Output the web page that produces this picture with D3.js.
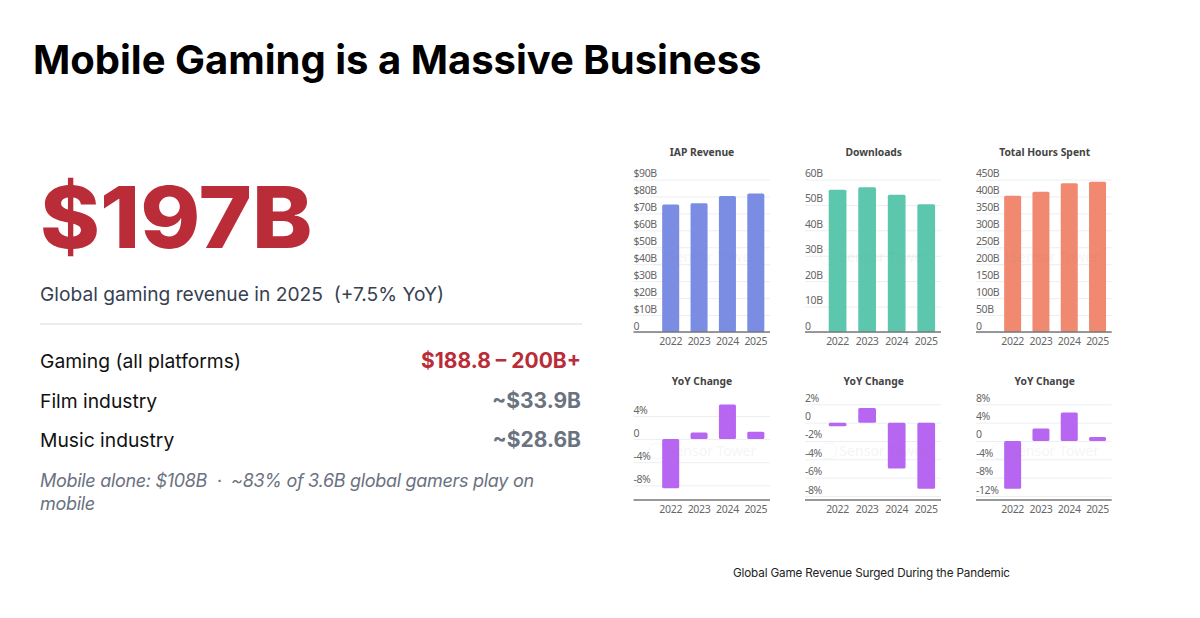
<!DOCTYPE html>
<html>
<head>
<meta charset="utf-8">
<script src="https://cdn.jsdelivr.net/npm/d3@7"></script>
<style>
  html, body { margin: 0; background: #fff; }
  svg { display: block; }
  text { font-family: Inter, "Liberation Sans", sans-serif; }
  .mini text { font-family: "Noto Sans", sans-serif; }
</style>
</head>
<body>
<div id="draw-here"></div>
<script>
var years = ['2022', '2023', '2024', '2025'];

var iapRevenue = [75.2, 76, 80.3, 81.7];
var downloads = [56, 57, 54, 50.3];
var hoursSpent = [402, 414, 439, 443];
var iapYoy = [-8.5, 1.15, 6, 1.27];
var downloadsYoy = [-0.4, 1.6, -5, -7.2];
var hoursYoy = [-10.4, 2.7, 6.2, 0.87];

var iapTicks = [0, 10, 20, 30, 40, 50, 60, 70, 80, 90];
var downloadsTicks = [0, 10, 20, 30, 40, 50, 60];
var hoursTicks = [0, 50, 100, 150, 200, 250, 300, 350, 400, 450];
var iapYoyTicks = [-8, -4, 0, 4];
var downloadsYoyTicks = [-8, -6, -4, -2, 0, 2];
var hoursYoyTicks = [-12, -8, -4, 0, 4, 8];

var compareLabels = ['Gaming (all platforms)', 'Film industry', 'Music industry'];
var compareValues = ['$188.8 – 200B+', '~$33.9B', '~$28.6B'];
var noteLines = ['Mobile alone: $108B  ·  ~83% of 3.6B global gamers play on', 'mobile'];

var width = 1200, height = 618;

var svg = d3.select('#draw-here').append('svg')
    .attr('width', width)
    .attr('height', height);

// left side, plain text
svg.append('text').attr('x', 33).attr('y', 74)
    .attr('font-size', 40).attr('font-weight', 700).attr('fill', '#000')
    .text('Mobile Gaming is a Massive Business');

// Inter is narrower than the original face, so stretch it a bit
svg.append('text').attr('transform', 'translate(40,248) scale(1.07,1)')
    .attr('font-size', 85).attr('font-weight', 800).attr('fill', '#b92c38')
    .text('$197B');

svg.append('text').attr('x', 40).attr('y', 301)
    .attr('font-size', 19.2).attr('fill', '#374151')
    .attr('xml:space', 'preserve')
    .text('Global gaming revenue in 2025  (+7.5% YoY)');

svg.append('line')
    .attr('x1', 40).attr('x2', 582).attr('y1', 324).attr('y2', 324)
    .attr('stroke', '#e5e7eb').attr('stroke-width', 1.5);

var rowY = d3.scalePoint().domain(compareLabels).range([368, 447]);

svg.selectAll('.row-label').data(compareLabels).enter().append('text')
    .attr('class', 'row-label')
    .attr('x', 40)
    .attr('y', function(d) { return rowY(d); })
    .attr('font-size', 19.3).attr('fill', '#111')
    .text(function(d) { return d; });

svg.selectAll('.row-value').data(compareValues).enter().append('text')
    .attr('class', 'row-value')
    .attr('x', 581)
    .attr('y', function(d, i) { return rowY(compareLabels[i]); })
    .attr('text-anchor', 'end')
    .attr('font-size', 21).attr('font-weight', 700)
    .attr('fill', function(d, i) { return i === 0 ? '#b92c38' : '#6b7280'; })
    .text(function(d) { return d; });

svg.selectAll('.note').data(noteLines).enter().append('text')
    .attr('class', 'note')
    .attr('x', 40)
    .attr('y', function(d, i) { return 487 + i * 23; })
    .attr('xml:space', 'preserve')
    .attr('font-size', 18).attr('letter-spacing', -0.3)
    .attr('font-style', 'italic').attr('fill', '#6b7280')
    .text(function(d) { return d; });

svg.append('text').attr('x', 733).attr('y', 577)
    .attr('font-size', 11.7).attr('letter-spacing', -0.15).attr('fill', '#222')
    .text('Global Game Revenue Surged During the Pandemic');

function moneyB(v) { return v === 0 ? '0' : '$' + v + 'B'; }
function plainB(v) { return v === 0 ? '0' : v + 'B'; }
function pct(v) { return v === 0 ? '0' : v + '%'; }

// left, barLeft, right, titleX are per column; known/knownY pin two ticks to pixels
function miniChart(o) {
  var g = svg.append('g').attr('class', 'mini');

  var x = d3.scaleBand().domain(years)
      .range([o.barLeft, o.right])
      .paddingInner(0.4).paddingOuter(0.2);

  var y = d3.scaleLinear().domain(o.known).range(o.knownY);

  // gridlines + labels sit on top of the line, left aligned
  var yAxis = g.append('g')
      .attr('transform', 'translate(' + o.left + ',0)')
      .call(d3.axisLeft(y).tickValues(o.ticks).tickFormat(o.format).tickSize(-(o.right - o.left)));
  yAxis.select('.domain').remove();
  yAxis.selectAll('.tick line').attr('stroke', '#eceef2');
  yAxis.selectAll('.tick text')
      .attr('x', 0).attr('dy', -3)
      .attr('text-anchor', 'start')
      .attr('font-size', 10.5).attr('letter-spacing', -0.4)
      .attr('fill', '#666');

  g.selectAll('.bar').data(o.values).enter().append('rect')
      .attr('class', 'bar')
      .attr('x', function(d, i) { return x(years[i]); })
      .attr('width', x.bandwidth())
      .attr('y', function(d) { return y(Math.max(d, 0)); })
      .attr('height', function(d) { return Math.abs(y(d) - y(0)); })
      .attr('rx', 1.5)
      .attr('fill', o.color);

  // faint watermark
  var markY = o.axisY > 400 ? 451 : 257;
  g.append('text')
      .attr('x', o.titleX + 10).attr('y', markY + 5)
      .attr('text-anchor', 'middle')
      .attr('font-size', 14).attr('fill', '#888').attr('opacity', 0.08)
      .text('Sensor Tower');
  g.append('circle')
      .attr('cx', o.titleX - 45).attr('cy', markY).attr('r', 8)
      .attr('fill', 'none').attr('stroke', '#888').attr('opacity', 0.08);

  var xAxis = g.append('g')
      .attr('transform', 'translate(0,' + o.axisY + ')')
      .call(d3.axisBottom(x).tickSize(0).tickPadding(6));
  xAxis.select('.domain').remove();
  xAxis.selectAll('text')
      .attr('font-size', 10.5).attr('letter-spacing', -0.3).attr('fill', '#666');

  g.append('line')
      .attr('x1', o.left).attr('x2', o.right)
      .attr('y1', o.axisY).attr('y2', o.axisY)
      .attr('stroke', '#777').attr('stroke-width', 1.3);

  g.append('text')
      .attr('x', o.titleX).attr('y', o.titleY)
      .attr('text-anchor', 'middle')
      .attr('font-size', 10.3).attr('font-weight', 700).attr('fill', '#444')
      .text(o.title);
}

miniChart({ title: 'IAP Revenue', values: iapRevenue, ticks: iapTicks, format: moneyB, color: '#7b8ce3',
  known: [0, 90], knownY: [332, 179.5], axisY: 332, titleY: 156, titleX: 702, left: 633.5, barLeft: 656.5, right: 770 });
miniChart({ title: 'Downloads', values: downloads, ticks: downloadsTicks, format: plainB, color: '#5dc7ae',
  known: [0, 60], knownY: [332, 179.5], axisY: 332, titleY: 156, titleX: 873.7, left: 805, barLeft: 822.8, right: 941 });
miniChart({ title: 'Total Hours Spent', values: hoursSpent, ticks: hoursTicks, format: plainB, color: '#f0896f',
  known: [0, 450], knownY: [332, 179.5], axisY: 332, titleY: 156, titleX: 1044.7, left: 976, barLeft: 998.5, right: 1111.7 });

miniChart({ title: 'YoY Change', values: iapYoy, ticks: iapYoyTicks, format: pct, color: '#b666f1',
  known: [-8, 4], knownY: [485.3, 416], axisY: 500, titleY: 385, titleX: 702, left: 633.5, barLeft: 656.5, right: 770 });
miniChart({ title: 'YoY Change', values: downloadsYoy, ticks: downloadsYoyTicks, format: pct, color: '#b666f1',
  known: [-8, 2], knownY: [496, 404.3], axisY: 500, titleY: 385, titleX: 873.7, left: 805, barLeft: 822.8, right: 941 });
miniChart({ title: 'YoY Change', values: hoursYoy, ticks: hoursYoyTicks, format: pct, color: '#b666f1',
  known: [-12, 8], knownY: [496, 404.3], axisY: 500, titleY: 385, titleX: 1044.7, left: 976, barLeft: 998.5, right: 1111.7 });
</script>
</body>
</html>
